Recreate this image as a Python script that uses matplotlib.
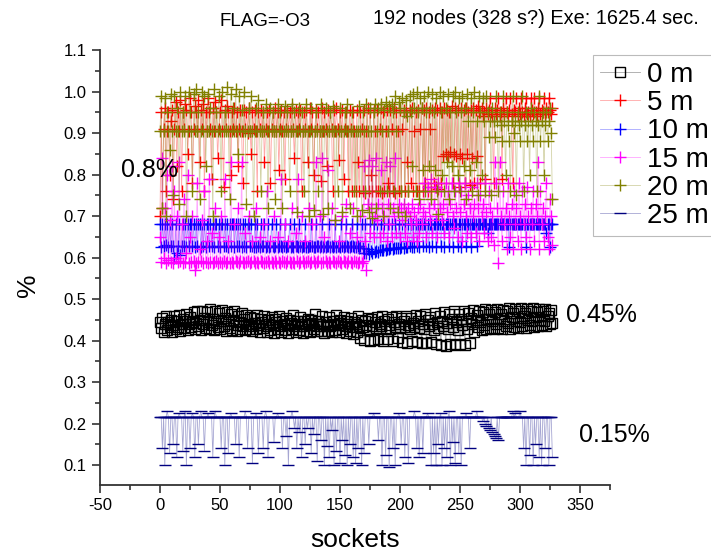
import numpy as np
import matplotlib
matplotlib.use("Agg")
import matplotlib.pyplot as plt
from matplotlib.ticker import MultipleLocator

plt.rcParams['font.family'] = ['Liberation Sans', 'DejaVu Sans']
plt.rcParams['axes.unicode_minus'] = False

# per-socket values, in thousandths of a percent
m0 = [445, 430, 455, 420, 440, 460, 425, 445, 432, 450,
      420, 438, 458, 428, 446, 433, 462, 424, 441, 452,
      430, 447, 465, 425, 440, 456, 432, 445, 468, 427,
      443, 470, 435, 450, 425, 472, 440, 455, 430, 468,
      445, 428, 475, 438, 452, 425, 470, 442, 433, 466,
      427, 448, 474, 436, 455, 424, 469, 440, 431, 463,
      426, 450, 472, 437, 423, 458, 444, 429, 466, 435,
      451, 425, 462, 440, 428, 457, 436, 422, 455, 443,
      427, 461, 438, 421, 452, 445, 430, 458, 434, 420,
      449, 441, 426, 456, 437, 419, 452, 444, 428, 460,
      435, 420, 447, 440, 425, 455, 438, 418, 450, 443,
      427, 462, 436, 421, 448, 441, 426, 457, 434, 419,
      446, 439, 424, 453, 437, 420, 450, 442, 427, 465,
      435, 422, 448, 440, 424, 458, 436, 419, 445, 438,
      423, 456, 434, 420, 447, 441, 426, 462, 437, 421,
      449, 443, 428, 457, 435, 418, 446, 439, 424, 455,
      433, 415, 445, 440, 420, 458, 436, 405, 450, 432,
      402, 447, 438, 455, 428, 400, 452, 436, 401, 445,
      430, 456, 404, 441, 434, 458, 399, 448, 431, 403,
      452, 437, 428, 457, 400, 444, 433, 459, 405, 440,
      430, 454, 397, 446, 432, 460, 395, 438, 429, 455,
      398, 442, 433, 462, 396, 447, 431, 458, 394, 439,
      427, 464, 393, 450, 434, 456, 396, 441, 425, 466,
      392, 445, 430, 460, 390, 448, 436, 468, 388, 442,
      428, 463, 391, 451, 433, 470, 389, 444, 426, 465,
      392, 452, 437, 472, 390, 446, 429, 467, 394, 455,
      440, 474, 420, 450, 462, 432, 471, 445, 425, 468,
      438, 476, 428, 452, 465, 430, 473, 446, 427, 469,
      441, 477, 431, 455, 463, 428, 474, 448, 435, 470,
      443, 478, 429, 456, 466, 433, 475, 447, 430, 471,
      445, 479, 434, 458, 467, 431, 476, 449, 437, 472,
      446, 478, 432, 457, 468, 436, 475, 450, 438, 470,
      448, 476, 435, 459, 466, 440, 473, 442]

m5 = [700, 950, 720, 910, 960, 760, 905, 950, 800, 930,
      955, 740, 910, 975, 820, 950, 905, 980, 760, 950,
      910, 970, 955, 850, 905, 985, 950, 780, 910, 965,
      950, 905, 980, 830, 955, 910, 970, 760, 950, 905,
      985, 950, 910, 790, 960, 905, 975, 950, 840, 910,
      950, 980, 905, 770, 955, 910, 965, 950, 905, 800,
      950, 910, 960, 905, 950, 820, 910, 955, 905, 780,
      955, 910, 950, 900, 960, 905, 850, 950, 910, 955,
      905, 760, 950, 910, 955, 905, 950, 830, 910, 950,
      905, 955, 780, 910, 950, 905, 960, 905, 950, 810,
      910, 955, 905, 950, 790, 910, 955, 905, 950, 905,
      960, 910, 840, 955, 905, 950, 910, 955, 760, 905,
      950, 910, 955, 830, 905, 960, 910, 950, 800, 905,
      955, 910, 950, 905, 785, 960, 905, 950, 910, 820,
      955, 905, 950, 910, 760, 955, 905, 960, 910, 835,
      950, 905, 955, 790, 910, 950, 905, 760, 955, 910,
      760, 950, 905, 760, 955, 830, 760, 950, 910, 760,
      955, 755, 905, 960, 760, 950, 800, 760, 955, 905,
      760, 955, 760, 910, 960, 755, 950, 760, 905, 955,
      780, 760, 955, 910, 760, 960, 755, 950, 905, 760,
      955, 760, 910, 955, 760, 950, 830, 760, 955, 780,
      960, 760, 905, 950, 760, 955, 760, 910, 960, 760,
      955, 780, 960, 760, 950, 910, 760, 955, 780, 960,
      770, 955, 765, 960, 780, 950, 845, 960, 850, 955,
      845, 950, 855, 965, 780, 850, 960, 845, 955, 770,
      850, 960, 840, 955, 780, 960, 850, 950, 775, 955,
      840, 960, 780, 955, 845, 965, 950, 780, 960, 940,
      950, 790, 960, 945, 955, 985, 950, 940, 780, 960,
      945, 955, 985, 940, 950, 790, 960, 945, 985, 950,
      940, 955, 985, 945, 780, 955, 950, 985, 940, 960,
      945, 985, 950, 940, 960, 985, 945, 950, 940, 985,
      955, 945, 985, 950, 940, 960, 985, 945, 955, 950,
      985, 945, 960, 950, 985, 955, 945, 960]

m10 = [680, 625, 680, 628, 680, 630, 680, 626, 682, 629,
       680, 627, 600, 680, 612, 629, 680, 605, 627, 680,
       628, 680, 626, 680, 629, 680, 680, 627, 680, 625,
       680, 628, 680, 680, 626, 680, 629, 680, 625, 680,
       680, 627, 680, 629, 680, 626, 680, 680, 628, 680,
       625, 680, 680, 627, 680, 629, 680, 626, 680, 628,
       680, 680, 625, 680, 627, 680, 629, 680, 626, 680,
       628, 680, 625, 680, 680, 627, 680, 629, 625, 680,
       626, 680, 628, 625, 680, 627, 629, 680, 626, 628,
       680, 625, 627, 680, 629, 626, 628, 680, 625, 627,
       680, 628, 626, 629, 680, 625, 627, 628, 680, 626,
       629, 625, 680, 627, 628, 626, 680, 629, 625, 627,
       628, 680, 626, 625, 629, 627, 680, 628, 626, 625,
       680, 627, 629, 626, 628, 680, 625, 627, 626, 629,
       628, 680, 626, 627, 625, 628, 680, 626, 629, 627,
       625, 680, 628, 626, 627, 680, 629, 625, 626, 628,
       680, 627, 625, 626, 680, 628, 624, 627, 680, 622,
       612, 680, 610, 620, 608, 680, 615, 612, 680, 614,
       616, 680, 613, 618, 680, 617, 619, 680, 618, 621,
       680, 620, 622, 680, 621, 623, 680, 622, 624, 680,
       623, 625, 680, 624, 680, 626, 625, 680, 627, 680,
       626, 680, 625, 680, 628, 680, 626, 680, 680, 627,
       680, 680, 628, 680, 625, 680, 680, 627, 680, 680,
       626, 680, 680, 680, 628, 680, 680, 625, 680, 680,
       680, 627, 680, 680, 626, 680, 680, 680, 628, 680,
       680, 625, 680, 680, 680, 627, 680, 680, 680, 626,
       680, 680, 680, 680, 628, 680, 680, 680, 680, 680,
       680, 680, 680, 660, 680, 680, 680, 680, 680, 680,
       680, 680, 680, 680, 680, 680, 680, 680, 680, 680,
       680, 625, 680, 680, 680, 680, 680, 680, 680, 680,
       680, 680, 680, 680, 680, 625, 680, 680, 680, 680,
       680, 680, 680, 680, 680, 680, 680, 680, 680, 680,
       680, 680, 660, 680, 680, 625, 680, 680]

m15 = [650, 590, 840, 600, 720, 588, 800, 595, 690, 590,
       820, 588, 760, 600, 700, 590, 830, 592, 680, 588,
       740, 590, 610, 800, 588, 650, 590, 700, 592, 570,
       588, 780, 590, 620, 592, 690, 588, 760, 590, 640,
       588, 790, 590, 660, 588, 590, 720, 592, 588, 650,
       590, 700, 588, 592, 790, 588, 590, 640, 588, 830,
       590, 588, 680, 592, 590, 720, 588, 592, 830, 590,
       588, 660, 590, 592, 700, 588, 590, 640, 592, 588,
       720, 590, 588, 650, 592, 590, 680, 588, 590, 760,
       592, 588, 640, 590, 588, 700, 592, 588, 650, 590,
       588, 790, 592, 590, 680, 588, 592, 640, 590, 588,
       720, 590, 588, 660, 592, 790, 588, 590, 700, 592,
       588, 640, 590, 592, 720, 588, 590, 680, 592, 588,
       830, 590, 592, 700, 588, 840, 590, 650, 592, 588,
       810, 590, 588, 720, 592, 590, 690, 588, 592, 640,
       590, 588, 700, 592, 590, 730, 588, 592, 660, 590,
       588, 720, 592, 590, 650, 588, 590, 700, 588, 592,
       820, 640, 570, 730, 835, 660, 720, 820, 650, 700,
       840, 690, 730, 650, 810, 720, 660, 700, 830, 640,
       730, 680, 820, 650, 720, 700, 840, 660, 710, 730,
       650, 720, 690, 730, 660, 710, 640, 720, 700, 680,
       730, 650, 710, 690, 640, 720, 660, 730, 680, 710,
       780, 700, 650, 770, 720, 690, 790, 660, 730, 770,
       700, 650, 780, 720, 760, 690, 730, 660, 780, 710,
       760, 650, 730, 780, 700, 670, 760, 720, 650, 780,
       710, 760, 640, 730, 780, 700, 660, 750, 720, 650,
       770, 700, 730, 660, 780, 720, 640, 750, 700, 730,
       660, 780, 710, 640, 760, 720, 650, 700, 630, 830,
       780, 720, 587, 830, 700, 640, 760, 680, 720, 620,
       780, 700, 650, 730, 620, 760, 680, 720, 640, 780,
       700, 620, 760, 680, 730, 650, 770, 700, 620, 720,
       680, 760, 640, 730, 700, 830, 620, 760, 680, 720,
       640, 700, 780, 650, 620, 740, 700, 630]

m20 = [905, 990, 720, 905, 985, 700, 950, 905, 860, 995,
       905, 750, 990, 905, 960, 905, 730, 1000, 905, 950,
       905, 990, 700, 905, 1000, 950, 905, 760, 995, 905,
       1005, 905, 950, 740, 905, 1000, 905, 990, 820, 905,
       995, 905, 960, 905, 700, 1005, 905, 950, 905, 990,
       905, 760, 1000, 905, 950, 905, 1010, 905, 740, 995,
       905, 960, 905, 1005, 905, 850, 990, 905, 955, 905,
       1000, 905, 730, 905, 960, 905, 990, 905, 700, 905,
       960, 905, 980, 905, 760, 905, 950, 905, 970, 905,
       720, 905, 960, 905, 950, 905, 740, 905, 970, 905,
       950, 905, 720, 905, 965, 905, 950, 905, 760, 905,
       970, 905, 950, 905, 710, 905, 960, 905, 950, 905,
       760, 905, 970, 905, 700, 905, 960, 905, 715, 905,
       950, 905, 760, 905, 970, 905, 705, 905, 960, 905,
       720, 905, 950, 905, 965, 905, 690, 905, 760, 905,
       960, 905, 710, 905, 950, 905, 970, 905, 720, 905,
       950, 905, 760, 905, 700, 905, 965, 905, 715, 950,
       905, 760, 970, 905, 710, 960, 905, 695, 950, 970,
       720, 905, 960, 760, 970, 905, 700, 955, 975, 760,
       905, 965, 720, 970, 950, 760, 990, 905, 710, 975,
       960, 760, 985, 950, 700, 980, 940, 760, 990, 950,
       820, 995, 960, 760, 1000, 950, 740, 985, 960, 810,
       990, 760, 950, 1000, 820, 960, 740, 995, 950, 810,
       985, 760, 705, 1000, 950, 800, 990, 760, 960, 830,
       995, 740, 950, 820, 990, 760, 1000, 950, 800, 985,
       760, 950, 990, 820, 960, 740, 995, 930, 810, 985,
       760, 950, 1000, 830, 930, 750, 990, 950, 800, 985,
       930, 760, 990, 950, 890, 930, 750, 960, 930, 890,
       990, 930, 760, 950, 920, 880, 990, 930, 800, 950,
       920, 880, 760, 930, 990, 900, 930, 750, 950, 920,
       880, 930, 990, 760, 920, 950, 880, 930, 800, 960,
       920, 880, 950, 930, 760, 920, 990, 880, 930, 950,
       800, 920, 950, 880, 930, 960, 900, 740]

m25 = [215, 215, 140, 215, 100, 215, 230, 215, 130, 215,
       215, 150, 215, 215, 120, 215, 225, 215, 215, 135,
       215, 230, 100, 215, 215, 140, 215, 225, 215, 120,
       215, 215, 150, 215, 230, 215, 215, 135, 215, 215,
       225, 215, 215, 215, 120, 215, 230, 215, 215, 215,
       215, 140, 215, 215, 100, 215, 215, 130, 215, 225,
       215, 215, 215, 150, 215, 215, 120, 215, 215, 215,
       215, 230, 215, 140, 215, 215, 215, 105, 215, 215,
       225, 215, 130, 215, 215, 215, 140, 215, 230, 215,
       120, 215, 215, 215, 215, 155, 215, 215, 225, 215,
       215, 215, 140, 215, 215, 170, 215, 100, 215, 215,
       230, 215, 190, 215, 140, 215, 180, 215, 120, 215,
       215, 150, 215, 190, 215, 215, 130, 215, 175, 215,
       215, 110, 215, 215, 160, 215, 215, 100, 215, 145,
       215, 120, 215, 185, 215, 100, 215, 135, 215, 215,
       105, 215, 160, 215, 125, 215, 100, 215, 150, 215,
       215, 120, 215, 105, 215, 140, 215, 215, 100, 215,
       130, 215, 215, 215, 150, 215, 215, 215, 225, 215,
       215, 215, 160, 215, 215, 100, 215, 215, 125, 215,
       215, 95, 215, 215, 140, 215, 100, 215, 215, 225,
       215, 150, 215, 215, 120, 215, 215, 105, 215, 215,
       215, 215, 230, 215, 140, 215, 120, 215, 215, 130,
       215, 215, 215, 225, 215, 215, 100, 215, 130, 215,
       100, 215, 150, 215, 225, 100, 215, 140, 215, 120,
       215, 230, 100, 215, 155, 215, 105, 215, 215, 130,
       215, 100, 215, 215, 215, 225, 215, 215, 140, 215,
       215, 215, 215, 215, 230, 215, 215, 215, 215, 205,
       215, 200, 195, 215, 190, 185, 215, 180, 175, 170,
       165, 215, 160, 215, 215, 215, 215, 215, 215, 215,
       215, 215, 215, 215, 230, 215, 225, 215, 215, 215,
       230, 215, 215, 140, 215, 100, 215, 215, 125, 215,
       215, 100, 215, 150, 215, 215, 120, 215, 100, 215,
       215, 140, 215, 215, 100, 215, 215, 120]

labels = ['0 m', '5 m', '10 m', '15 m', '20 m', '25 m']
series = [m0, m5, m10, m15, m20, m25]
colors = ['#000000', '#ff0000', '#0000ff', '#ff00ff', '#808000', '#000080']
markers = ['s', '+', '+', '+', '+', '_']

fig = plt.figure(figsize=(7.11, 5.53), dpi=100)
ax = fig.add_axes([100 / 711, 1 - 485 / 553, 510 / 711, 435 / 553])

for vals, lab, c, mk in zip(series, labels, colors, markers):
    y = np.array(vals) / 1000.0
    x = np.arange(len(y))
    rgb = matplotlib.colors.to_rgb(c)
    line_c = (*rgb, 0.35)
    if mk == 's':
        ax.plot(x, y, color=line_c, lw=0.6, marker='s', ms=7, mfc='none',
                mec=c, mew=1.0, label=lab)
    else:
        ax.plot(x, y, color=line_c, lw=0.6, marker=mk, ms=8, mec=c,
                mew=1.0, label=lab)

ax.set_xlim(-50, 375)
ax.set_ylim(0.052, 1.1)
ax.xaxis.set_major_locator(MultipleLocator(50))
ax.xaxis.set_minor_locator(MultipleLocator(25))
ax.yaxis.set_minor_locator(MultipleLocator(0.05))
ax.set_yticks(np.arange(0.1, 1.11, 0.1))
ax.set_yticklabels(['%.1f' % v for v in np.arange(0.1, 1.11, 0.1)])
ax.tick_params(which='major', direction='out', length=6, width=1.2,
               labelsize=12, color='#333333')
ax.tick_params(which='minor', direction='out', length=3.5, width=1.2,
               color='#333333')
for s in ['top', 'right']:
    ax.spines[s].set_visible(False)
for s in ['left', 'bottom']:
    ax.spines[s].set_linewidth(1.3)
    ax.spines[s].set_color('#333333')

fig.text(28 / 711, 1 - 285 / 553, '%', rotation=90, fontsize=19,
         ha='center', va='center')
fig.text(355 / 711, 1 - 540 / 553, 'sockets', fontsize=19,
         ha='center', va='center')
fig.text(265 / 711, 1 - 22 / 553, 'FLAG=-O3', fontsize=13.5,
         ha='center', va='center')
fig.text(536 / 711, 1 - 18 / 553, '192 nodes (328 s?) Exe: 1625.4 sec.',
         fontsize=14.3, ha='center', va='center')

ax.text(-9, 0.811, '0.8%', fontsize=18, ha='center', va='center')
ax.text(368, 0.461, '0.45%', fontsize=18, ha='center', va='center',
        clip_on=False)
ax.text(379, 0.172, '0.15%', fontsize=18, ha='center', va='center',
        clip_on=False)

# legend box runs past the right edge of the figure
leg = ax.legend(loc='upper left', bbox_to_anchor=(593 / 711, 1 - 55 / 553),
                bbox_transform=fig.transFigure, fontsize=20,
                frameon=True, fancybox=False, edgecolor='#bbbbbb',
                framealpha=1, handlelength=1.45, handletextpad=0.25,
                labelspacing=0.08, borderpad=0.25, borderaxespad=0)
leg.get_frame().set_linewidth(0.8)

fig.savefig('out.png', dpi=100)
